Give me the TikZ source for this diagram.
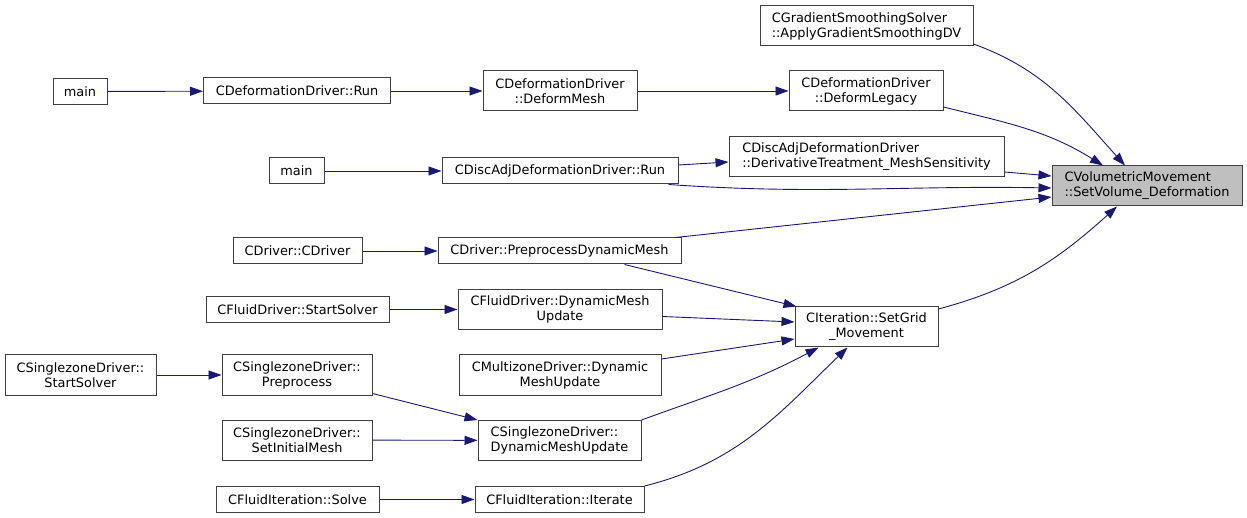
\documentclass[tikz,border=0pt]{standalone}
\usepackage{fontspec}
\setmainfont{DejaVu Sans}
\usepackage{xcolor}
\definecolor{edgeblue}{RGB}{25,25,112}
\definecolor{boxgray}{RGB}{64,64,64}
\definecolor{rootgray}{RGB}{191,191,191}
\usetikzlibrary{arrows.meta}

\begin{document}
\begin{tikzpicture}[x=1pt,y=-1pt,
  fn/.style={draw=boxgray,fill=white,line width=1pt,inner xsep=0pt,inner ysep=0pt,
             minimum height=26pt,font=\fontsize{12.9}{15}\selectfont,align=center},
  fn2/.style={fn,minimum height=40pt},
  root/.style={fn2,fill=rootgray,align=left},
  call/.style={-{Triangle[length=13pt,width=9pt]},color=edgeblue,line width=0.9pt}
]
  \useasboundingbox (0,0) rectangle (1247,518);
  % Column 1
  \node[fn,minimum width=54pt] (main1) at (80,91.5) {main};
  \node[fn2,minimum width=151pt] (sstart) at (80.5,375) {CSinglezoneDriver::\\StartSolver};
  % Column 2
  \node[fn,minimum width=187pt] (drun) at (297,91) {CDeformationDriver::Run};
  \node[fn,minimum width=55pt] (main2) at (296.5,171) {main};
  \node[fn,minimum width=129pt] (cdriver) at (297.5,251) {CDriver::CDriver};
  \node[fn,minimum width=183pt] (fstart) at (297.5,309.5) {CFluidDriver::StartSolver};
  \node[fn2,minimum width=150pt] (sprep) at (297,375) {CSinglezoneDriver::\\Preprocess};
  \node[fn2,minimum width=150pt] (sinit) at (297,440) {CSinglezoneDriver::\\SetInitialMesh};
  \node[fn,minimum width=163pt] (fsolve) at (297.5,499.5) {CFluidIteration::Solve};
  % Column 3
  \node[fn2,minimum width=154pt] (dmesh) at (560,91) {CDeformationDriver\\::DeformMesh};
  \node[fn,minimum width=236pt] (drun2) at (560,171) {CDiscAdjDeformationDriver::Run};
  \node[fn,minimum width=243pt] (preproc) at (559.5,251) {CDriver::PreprocessDynamicMesh};
  \node[fn2,minimum width=204pt] (fdmu) at (560,309.5) {CFluidDriver::DynamicMesh\\Update};
  \node[fn2,minimum width=202pt] (mdmu) at (560,375) {CMultizoneDriver::Dynamic\\MeshUpdate};
  \node[fn2,minimum width=163pt,align=left] (sdmu) at (559.5,440.5) {CSinglezoneDriver::\\DynamicMeshUpdate};
  \node[fn,minimum width=169pt] (iterate) at (559.5,499.5) {CFluidIteration::Iterate};
  % Column 4
  \node[fn2,minimum width=213pt,align=left] (grad) at (866.5,26) {CGradientSmoothingSolver\\::ApplyGradientSmoothingDV};
  \node[fn2,minimum width=154pt] (dlegacy) at (866,91) {CDeformationDriver\\::DeformLegacy};
  \node[fn2,minimum width=275pt,align=left] (deriv) at (866.5,157) {CDiscAdjDeformationDriver\\::DerivativeTreatment\_MeshSensitivity};
  \node[fn2,minimum width=143pt] (setgrid) at (866.5,327) {CIteration::SetGrid\\\_Movement};
  % Root
  \node[root,minimum width=190pt] (setvol) at (1147,186) {CVolumetricMovement\\::SetVolume\_Deformation};

  % Calls
  \draw[call] (main1) -- (drun);
  \draw[call] (drun) -- (dmesh);
  \draw[call] (dmesh) -- (dlegacy);
  \draw[call] ([yshift=-16pt]dlegacy.east) to[out=-14,in=148] ([xshift=-44pt]setvol.north);
  \draw[call] ([yshift=-18pt]grad.east) to[out=-20,in=132] ([xshift=-22pt]setvol.north);
  \draw[call] ([yshift=-15pt]deriv.east) -- ([yshift=10pt]setvol.west);
  \draw[call] (main2) -- (drun2);
  \draw[call] ([yshift=6pt]drun2.east) -- ([yshift=-5pt]deriv.west);
  \draw[call] ([xshift=-10pt]drun2.south east) to[out=-4,in=179] ([yshift=-2pt]setvol.west);
  \draw[call] (cdriver) -- (preproc);
  \draw[call] ([xshift=-6pt]preproc.north east) -- ([yshift=-11pt]setvol.west);
  \draw[call] ([xshift=65pt]preproc.south) -- ([xshift=2pt]setgrid.north west);
  \draw[call] ([yshift=18pt]setgrid.east) to[out=15,in=-138] ([xshift=-30pt]setvol.south);
  \draw[call] (fstart) -- (fdmu);
  \draw[call] ([yshift=-7pt]fdmu.east) -- ([yshift=5pt]setgrid.west);
  \draw[call] ([yshift=16pt]mdmu.east) -- ([yshift=-12pt]setgrid.west);
  \draw[call] (sstart) -- (sprep);
  \draw[call] ([yshift=2pt]sprep.south east) -- (sdmu.north west);
  \draw[call] (sinit) -- (sdmu);
  \draw[call] (sdmu.north east) to[out=20,in=-152] ([xshift=-48pt]setgrid.south);
  \draw[call] (iterate.north east) to[out=14,in=-136] ([xshift=-19pt]setgrid.south);
  \draw[call] (fsolve) -- (iterate);
\end{tikzpicture}
\end{document}
